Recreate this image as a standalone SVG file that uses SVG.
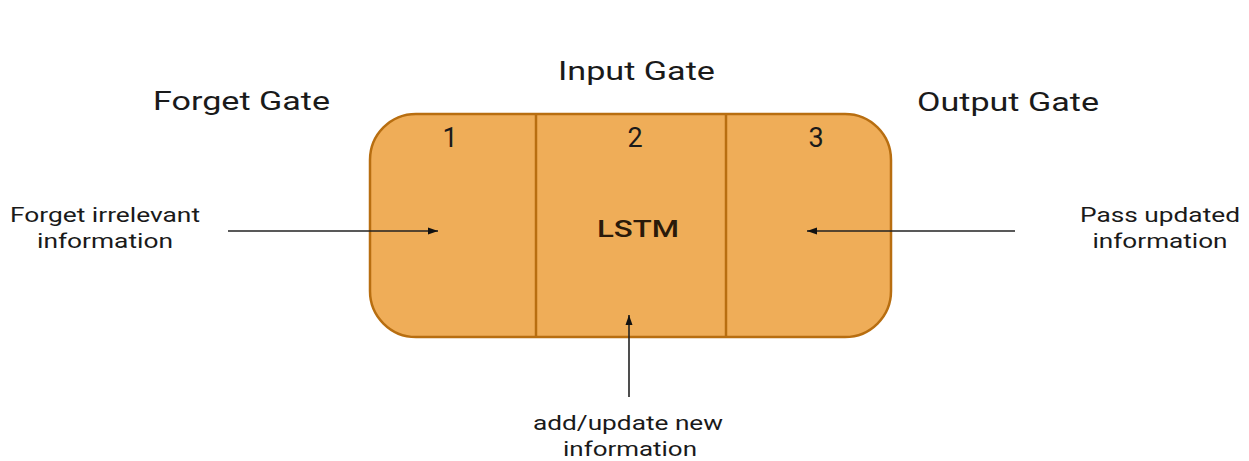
<svg xmlns="http://www.w3.org/2000/svg" width="1249" height="461" viewBox="0 0 1249 461">
  <style>
    .title { font-family: Roboto, "Liberation Sans", sans-serif; font-size: 25px; fill: #1a1a1a; }
    .num { font-family: Roboto, "Liberation Sans", sans-serif; font-size: 27px; fill: #1a1a1a; text-anchor: middle; }
    .label { font-family: Roboto, "Liberation Sans", sans-serif; font-size: 20px; fill: #1a1a1a; text-anchor: middle; }
    .cell { fill: #EFAD58; stroke: #B86E10; stroke-width: 2.5; }
    .divider { stroke: #B86E10; stroke-width: 2.5; }
    .conn { stroke: #222; stroke-width: 1.6; fill: none; marker-end: url(#arrow); }
  </style>
  <defs>
    <marker id="arrow" viewBox="0 0 10 10" refX="10" refY="5" markerWidth="14" markerHeight="10" markerUnits="userSpaceOnUse" orient="auto">
      <path d="M0,1.5 L10,5 L0,8.5 z" fill="#111"/>
    </marker>
  </defs>
  <rect width="1249" height="461" fill="#ffffff"/>

  <!-- gate headings -->
  <g id="forget-gate-title"><text class="title" x="153" y="110" textLength="177" lengthAdjust="spacingAndGlyphs">Forget Gate</text></g>
  <g id="input-gate-title"><text class="title" x="558" y="80" textLength="157" lengthAdjust="spacingAndGlyphs">Input Gate</text></g>
  <g id="output-gate-title"><text class="title" x="917" y="111" textLength="182" lengthAdjust="spacingAndGlyphs">Output Gate</text></g>

  <!-- LSTM cell with its three gate sections -->
  <g id="lstm-cell">
    <rect class="cell" x="370" y="114" width="521" height="223" rx="46" ry="46"/>
    <line class="divider" x1="536" y1="114" x2="536" y2="337"/>
    <line class="divider" x1="726" y1="114" x2="726" y2="337"/>
    <text class="num" x="450" y="147">1</text>
    <text class="num" x="635" y="147">2</text>
    <text class="num" x="816" y="147">3</text>
    <text class="num" x="638" y="237" textLength="82" lengthAdjust="spacingAndGlyphs" style="font-weight:500;font-size:24px;fill:#2a1a0a">LSTM</text>
  </g>

  <!-- side and bottom labels -->
  <g id="forget-label">
    <text class="label" x="105" y="222" textLength="190" lengthAdjust="spacingAndGlyphs">Forget irrelevant</text>
    <text class="label" x="105" y="248" textLength="136" lengthAdjust="spacingAndGlyphs">information</text>
  </g>
  <g id="pass-label">
    <text class="label" x="1160" y="222" textLength="160" lengthAdjust="spacingAndGlyphs">Pass updated</text>
    <text class="label" x="1160" y="248" textLength="135" lengthAdjust="spacingAndGlyphs">information</text>
  </g>
  <g id="add-label">
    <text class="label" x="628" y="430" textLength="190" lengthAdjust="spacingAndGlyphs">add/update new</text>
    <text class="label" x="630" y="456" textLength="134" lengthAdjust="spacingAndGlyphs">information</text>
  </g>

  <!-- connectors -->
  <g id="connectors">
    <line class="conn" x1="228" y1="231" x2="438" y2="231"/>
    <line class="conn" x1="1015" y1="231" x2="807" y2="231"/>
    <line class="conn" x1="629" y1="397" x2="629" y2="315"/>
  </g>
</svg>
